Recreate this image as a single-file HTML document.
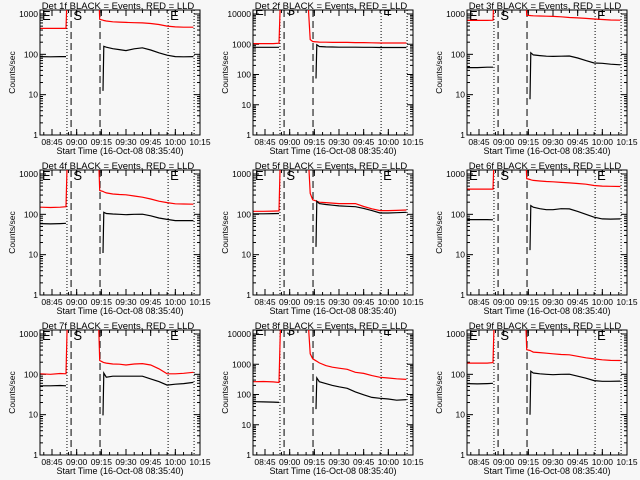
<!DOCTYPE html>
<html><head><meta charset="utf-8">
<style>
html,body{margin:0;padding:0;background:#f7f7f7;}
svg{display:block;font-family:"Liberation Sans",sans-serif;}
</style></head>
<body>
<svg id="c" width="640" height="480" viewBox="0 0 640 480"></svg>
<script>
const times = [38,44,50,53.5,55,70,72.5,74,76,76.5,78,82,86,90,95,100,105,110,115,120,125,131];
const panelNames = ["1f","2f","3f","4f","5f","6f","7f","8f","9f"];
const panelMax = [1000,10000,1000,1000,1000,1000,1000,10000,1000];
const red1 = [440,440,440,440,3e4,3e4,3e4,740,700,690,670,640,630,620,610,600,580,550,500,480,470,470];
const blk1 = [88,87,88,88,null,null,null,null,12.4,158,150,138,131,124,137,145,128,109,95,88,87,88];
const red2 = [1050,1050,1050,1080,3e5,3e5,1430,1230,1200,1200,1180,1170,1150,1150,1150,1130,1130,1120,1100,1100,1100,1100];
const blk2 = [795,790,790,790,null,null,null,null,74,960,840,820,810,800,800,800,790,790,780,780,780,780];
const red3 = [695,695,695,700,3e4,3e4,3e4,930,920,915,900,890,880,870,850,820,800,780,750,730,710,700];
const blk3 = [47,47,48,48,null,null,null,null,7.7,109,97,93,90,89,90,91,81,70,61,60,57,55];
const red4 = [150,148,150,155,3e4,3e4,3e4,390,370,360,340,320,310,305,285,266,240,212,195,182,180,178];
const blk4 = [59,58,59,60,null,null,null,null,11,112,105,102,100,98,100,101,92,81,75,70,70,70];
const red5 = [119,119,120,122,3e4,3e4,330,229,215,210,200,195,190,185,185,185,156,137,124,124,125,128];
const blk5 = [103,103,104,105,null,null,null,null,15.6,212,185,175,168,162,158,155,140,124,108,108,110,112];
const red6 = [423,423,423,423,3e4,3e4,3e4,770,730,720,695,670,650,640,620,600,580,560,520,500,495,490];
const blk6 = [74,74,74,73,null,null,null,null,13,165,150,138,130,130,138,136,118,100,85,77,76,77];
const red7 = [103,100,105,103,3e4,3e4,3e4,220,200,195,190,180,178,170,180,185,170,137,103,103,106,112];
const blk7 = [52,52,53,52,null,null,null,null,9.6,107,85,90,90,90,90,90,77,66,54,57,59,63];
const red8 = [265,270,260,250,3e5,3e5,2220,1510,1300,1250,1110,900,800,740,680,540,500,420,370,350,330,315];
const blk8 = [58,57,56,55,null,null,null,null,33,355,265,230,200,180,160,122,98,80,75,71,65,68];
const red9 = [190,190,190,195,3e4,3e4,3e4,407,390,380,355,345,335,323,310,305,280,257,242,229,222,220];
const blk9 = [59,58,59,60,null,null,null,null,10,119,108,103,100,98,100,101,90,80,70,67,67,68];
const reds = [red1,red2,red3,red4,red5,red6,red7,red8,red9];
const blks = [blk1,blk2,blk3,blk4,blk5,blk6,blk7,blk8,blk9];
const xTickTimes = [45,60,75,90,105,120,135];
const xTickLabels = ["08:45","09:00","09:15","09:30","09:45","10:00","10:15"];
const dottedTimes = [54.1,115.6,131.4];
const dashedTimes = [56.6,74.2];
const markerTimes = [38.9,58.0,116.8];
const markerLabels = ["E","S","E"];

const NS="http://www.w3.org/2000/svg";
const svg=document.getElementById('c');
function mk(tag,attrs,parent){const e=document.createElementNS(NS,tag);for(const k in attrs)e.setAttribute(k,attrs[k]);parent.appendChild(e);return e;}
const L=40,R=200,T=10,B=135,T0=37.7,T1=135;
function xs(t){return L+(t-T0)*(R-L)/(T1-T0);}
const defs=mk('defs',{},svg);
const cp=mk('clipPath',{id:'pc'},defs);
mk('rect',{x:L,y:T,width:R-L,height:B-T},cp);

for(let p=0;p<9;p++){
  const col=p%3,row=Math.floor(p/3);
  const ox=[0,213,427][col],oy=row*160;
  const max=panelMax[p];
  const dec=Math.log10(max);
  const ppd=(B-14)/dec;
  const ys=v=>B-Math.log10(v)*ppd;
  const g=mk('g',{transform:`translate(${ox},${oy})`},svg);
  
  
  const title=mk('text',{x:118,y:9,'text-anchor':'middle','font-size':'9.5'},g);
  title.textContent=`Det ${panelNames[p]} BLACK = Events, RED = LLD`;
  
  
  const box=mk('rect',{x:L,y:T,width:R-L,height:B-T,fill:'none',stroke:'#000','stroke-width':1},g);
  
  
  for(let d=0;d<=dec;d++){
    const y=ys(Math.pow(10,d));
    mk('line',{x1:L,x2:L+6,y1:y,y2:y,stroke:'#000'},g);
    mk('line',{x1:R,x2:R-6,y1:y,y2:y,stroke:'#000'},g);
    const lb=mk('text',{x:L-2,y:y+3,'text-anchor':'end','font-size':'8.5'},g);
    lb.textContent=String(Math.pow(10,d));
    
    
    if(d<dec){for(let m=2;m<10;m++){const ym=ys(m*Math.pow(10,d));
      mk('line',{x1:L,x2:L+3,y1:ym,y2:ym,stroke:'#000'},g);
      mk('line',{x1:R,x2:R-3,y1:ym,y2:ym,stroke:'#000'},g);}}
  }
  for(let t=40;t<=135;t+=5){const x=xs(t);
    mk('line',{x1:x,x2:x,y1:B,y2:B-3,stroke:'#000'},g);
    mk('line',{x1:x,x2:x,y1:T,y2:T+3,stroke:'#000'},g);}
  xTickTimes.forEach((t,i)=>{const x=xs(t);
    mk('line',{x1:x,x2:x,y1:B,y2:B-6,stroke:'#000'},g);
    mk('line',{x1:x,x2:x,y1:T,y2:T+6,stroke:'#000'},g);
    const lb=mk('text',{x:x,y:B+10,'text-anchor':'middle','font-size':'8.5'},g);
    lb.textContent=xTickLabels[i];
    
    });
  const xt=mk('text',{x:120,y:B+19,'text-anchor':'middle','font-size':'9'},g);
  xt.textContent='Start Time (16-Oct-08 08:35:40)';
  
  
  const yt=mk('text',{x:0,y:0,'text-anchor':'middle','font-size':'8.5',transform:`translate(15,${(T+B)/2}) rotate(-90)`},g);
  yt.textContent='Counts/sec';
  
  
  const pg=mk('g',{'clip-path':'url(#pc)'},g);
  dottedTimes.forEach(t=>{const l=mk('line',{x1:xs(t),x2:xs(t),y1:T,y2:B,stroke:'#000','stroke-dasharray':'1,2'},pg);
    
    });
  dashedTimes.forEach(t=>{const l=mk('line',{x1:xs(t),x2:xs(t),y1:T,y2:B,stroke:'#000','stroke-dasharray':'7,4'},pg);
    
    });
  markerTimes.forEach((t,i)=>{const m=mk('text',{x:xs(t),y:max>1000?T+5:T+10,'font-size':'13'},pg);
    m.textContent=markerLabels[i];
    
    });
  function series(vals,color,name){
    let d='',pen=false;
    vals.forEach((v,i)=>{if(v==null){pen=false;return;}
      d+=(pen?'L':'M')+xs(times[i]).toFixed(1)+','+ys(v).toFixed(1);pen=true;});
    const pa=mk('path',{d:d,fill:'none',stroke:color,'stroke-width':1.2},pg);
    
    
  }
  series(reds[p],'#ff0000','lld-series');
  series(blks[p],'#000000','events-series');
}
</script>
</body></html>
